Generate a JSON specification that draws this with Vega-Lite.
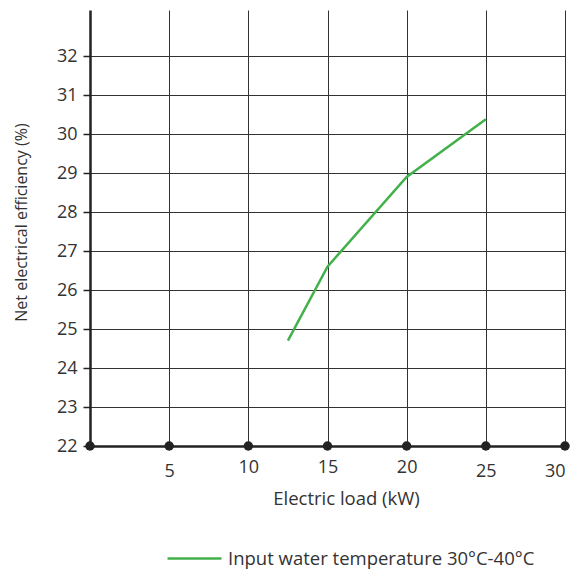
{
  "$schema": "https://vega.github.io/schema/vega-lite/v6.json",
  "width": 475,
  "height": 436,
  "autosize": "none",
  "padding": {"left": 90, "top": 10, "right": 20, "bottom": 123},
  "background": "white",
  "config": {
    "view": {"stroke": null},
    "font": "Open Sans",
    "axis": {
      "labelColor": "#333",
      "titleColor": "#333",
      "labelFontSize": 18,
      "titleFontSize": 16,
      "titleFontWeight": "normal",
      "domainColor": "#222",
      "domainWidth": 2.5,
      "gridColor": "#333",
      "gridWidth": 1,
      "gridOpacity": 1
    }
  },
  "layer": [
    {
      "data": {"values": [
        {"load": 12.5, "eff": 24.7, "series": "Input water temperature 30°C-40°C"},
        {"load": 15, "eff": 26.6, "series": "Input water temperature 30°C-40°C"},
        {"load": 20, "eff": 28.9, "series": "Input water temperature 30°C-40°C"},
        {"load": 25, "eff": 30.38, "series": "Input water temperature 30°C-40°C"}
      ]},
      "mark": {"type": "line", "strokeWidth": 2.5},
      "encoding": {
        "x": {
          "field": "load", "type": "quantitative",
          "scale": {"domain": [0, 30], "nice": false, "zero": false},
          "axis": {
            "values": [5, 10, 15, 20, 25, 30],
            "title": "Electric load (kW)",
            "titleFontSize": 18.5,
            "ticks": false,
            "labelPadding": {"condition": {"test": "datum.value == 5 || datum.value >= 25", "value": 16}, "value": 12},
            "labelBaseline": "top",
            "titlePadding": 9,
            "titleX": 256
          }
        },
        "y": {
          "field": "eff", "type": "quantitative",
          "scale": {"domain": [22, 33.18], "nice": false, "zero": false},
          "axis": {
            "values": [22, 23, 24, 25, 26, 27, 28, 29, 30, 31, 32],
            "title": "Net electrical efficiency (%)",
            "tickSize": 7,
            "tickColor": "#222",
            "tickWidth": 1.5,
            "labelPadding": 6,
            "titlePadding": 27,
            "titleY": 212
          }
        },
        "color": {
          "field": "series", "type": "nominal",
          "scale": {"range": ["#43b14b"]},
          "legend": {
            "title": null,
            "orient": "none",
            "legendX": 76,
            "legendY": 520,
            "symbolType": "stroke",
            "symbolSize": 2916,
            "symbolStrokeWidth": 2.5,
            "labelFontSize": 18.5,
            "labelFont": "Open Sans",
            "labelColor": "#333",
            "labelOffset": 5,
            "padding": 0,
            "labelLimit": 400
          }
        }
      }
    },
    {
      "data": {"values": [
        {"load": 0, "eff": 22}, {"load": 5, "eff": 22}, {"load": 10, "eff": 22},
        {"load": 15, "eff": 22}, {"load": 20, "eff": 22}, {"load": 25, "eff": 22},
        {"load": 30, "eff": 22}
      ]},
      "mark": {"type": "point", "filled": true, "size": 90, "color": "#222", "opacity": 1},
      "encoding": {
        "x": {"field": "load", "type": "quantitative"},
        "y": {"field": "eff", "type": "quantitative"}
      }
    }
  ]
}
